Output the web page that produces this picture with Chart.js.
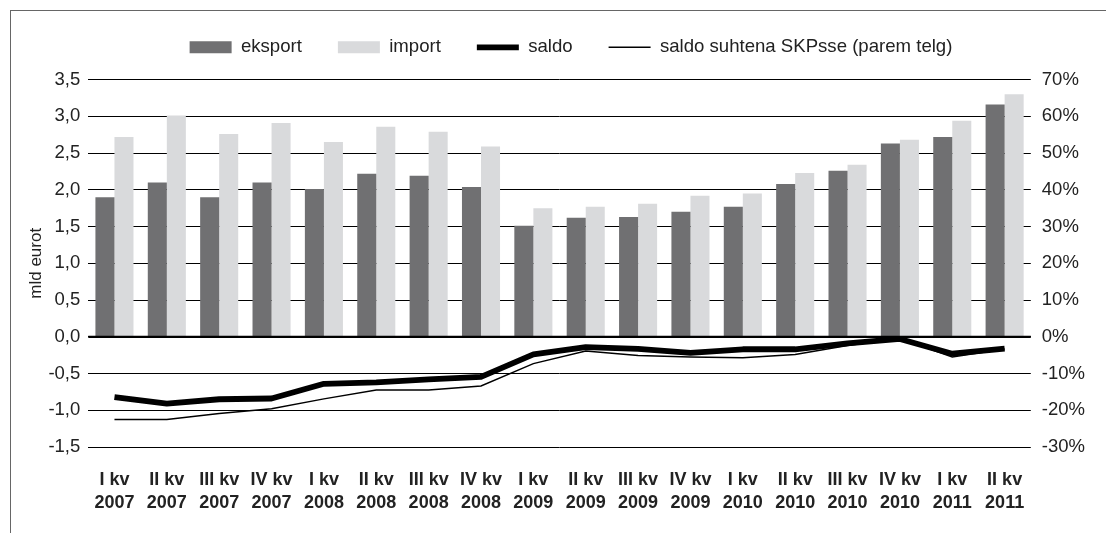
<!DOCTYPE html>
<html>
<head>
<meta charset="utf-8">
<script src="https://cdn.jsdelivr.net/npm/chart.js@4.4.1/dist/chart.umd.min.js"></script>
<style>
  html, body { margin: 0; padding: 0; background: #fff; }
  #wrap { position: relative; width: 1106px; height: 533px; }
  #frame {
    position: absolute; left: 10px; top: 10px; right: -5px; bottom: -5px;
    border-left: 1px solid #666; border-top: 1px solid #666;
    pointer-events: none;
  }
  canvas { position: absolute; left: 0; top: 0; }
</style>
</head>
<body>
<div id="wrap">
  <canvas id="chart" width="1106" height="533"></canvas>
  <div id="frame"></div>
</div>
<script>
/* kvartalid, mld eurot ja % SKPst */
const quarters = [
  ['I kv', '2007'], ['II kv', '2007'], ['III kv', '2007'], ['IV kv', '2007'],
  ['I kv', '2008'], ['II kv', '2008'], ['III kv', '2008'], ['IV kv', '2008'],
  ['I kv', '2009'], ['II kv', '2009'], ['III kv', '2009'], ['IV kv', '2009'],
  ['I kv', '2010'], ['II kv', '2010'], ['III kv', '2010'], ['IV kv', '2010'],
  ['I kv', '2011'], ['II kv', '2011']
];
const eksport  = [1.90, 2.10, 1.90, 2.10, 2.01, 2.22, 2.19, 2.04, 1.51, 1.62, 1.63, 1.70, 1.77, 2.08, 2.26, 2.63, 2.72, 3.16];
const importV  = [2.72, 3.01, 2.76, 2.91, 2.65, 2.86, 2.79, 2.59, 1.75, 1.77, 1.81, 1.92, 1.95, 2.23, 2.34, 2.68, 2.94, 3.30];
const saldo    = [-0.82, -0.91, -0.85, -0.84, -0.64, -0.62, -0.58, -0.545, -0.24, -0.14, -0.165, -0.22, -0.17, -0.17, -0.09, -0.03, -0.23, -0.16];
const saldoSkp = [-22.5, -22.5, -20.9, -19.6, -16.9, -14.5, -14.5, -13.4, -7.3, -3.9, -5.1, -5.5, -5.7, -4.8, -2.4, -0.5, -5.5, -3.3];

const leftTicks  = { min: -1.5, max: 3.5, step: 0.5 };
const rightTicks = { min: -30, max: 70, step: 10 };

const TEXT = '#222';
const FONT = 'Liberation Sans, Arial, Helvetica, sans-serif';

// legend: extra room below it, and a small nudge to the right
const legendTweak = {
  id: 'legendTweak',
  beforeInit(chart) {
    const fit = chart.legend.fit;
    chart.legend.fit = function () {
      fit.bind(chart.legend)();
      this.height += 13;
    };
  },
  afterLayout(chart) {
    chart.legend.left += 14;
    chart.legend.right += 14;
  }
};

// 0-joon: over the bars, under the lines
const zeroLine = {
  id: 'zeroLine',
  afterDatasetDraw(chart, args) {
    if (args.index !== 0) return;
    const { ctx, chartArea } = chart;
    const y = chart.scales.y.getPixelForValue(0);
    ctx.save();
    ctx.strokeStyle = '#000';
    ctx.lineWidth = 2.2;
    ctx.beginPath();
    ctx.moveTo(chartArea.left, y);
    ctx.lineTo(chartArea.right, y);
    ctx.stroke();
    ctx.restore();
  }
};

new Chart(document.getElementById('chart'), {
  type: 'bar',
  data: {
    labels: quarters,
    datasets: [
      {
        label: 'eksport',
        data: eksport,
        backgroundColor: '#707072',
        borderWidth: 0,
        categoryPercentage: 0.727,
        barPercentage: 1.0,
        order: 1,
        yAxisID: 'y'
      },
      {
        label: 'import',
        data: importV,
        backgroundColor: '#d9dadc',
        borderWidth: 0,
        categoryPercentage: 0.727,
        barPercentage: 1.0,
        order: 1,
        yAxisID: 'y'
      },
      {
        type: 'line',
        label: 'saldo',
        data: saldo,
        borderColor: '#000',
        backgroundColor: '#000',
        borderWidth: 5.8,
        borderJoinStyle: 'round',
        pointRadius: 0,
        tension: 0,
        order: 0,
        yAxisID: 'y'
      },
      {
        type: 'line',
        label: 'saldo suhtena SKPsse (parem telg)',
        data: saldoSkp,
        borderColor: '#000',
        backgroundColor: '#000',
        borderWidth: 1.5,
        pointRadius: 0,
        tension: 0,
        order: 0,
        yAxisID: 'y1'
      }
    ]
  },
  options: {
    responsive: false,
    animation: false,
    devicePixelRatio: 1,
    layout: { padding: { left: 18, right: 10, top: 2, bottom: -3 } },
    plugins: {
      tooltip: { enabled: false },
      legend: {
        position: 'top',
        align: 'center',
        labels: {
          usePointStyle: true,
          pointStyleWidth: 42,
          boxHeight: 12,
          padding: 36,
          color: TEXT,
          font: { size: 18.6, family: FONT },
          generateLabels: chart => chart.data.datasets.map((ds, i) => ({
            text: ds.label,
            datasetIndex: i,
            fillStyle: ds.type === 'line' ? ds.borderColor : ds.backgroundColor,
            strokeStyle: ds.type === 'line' ? ds.borderColor : ds.backgroundColor,
            lineWidth: ds.type === 'line' ? ds.borderWidth : 0,
            pointStyle: ds.type === 'line' ? 'line' : 'rect',
            fontColor: TEXT,
            hidden: false
          }))
        }
      }
    },
    scales: {
      x: {
        grid: { display: false, drawTicks: false },
        border: { display: false },
        ticks: {
          color: TEXT,
          font: { size: 18, family: FONT, weight: 'bold', lineHeight: 1.25 },
          padding: 22,
          maxRotation: 0,
          autoSkip: false
        }
      },
      y: {
        position: 'left',
        min: leftTicks.min,
        max: leftTicks.max,
        border: { display: false },
        grid: { color: '#000', lineWidth: 1, drawTicks: false },
        ticks: {
          stepSize: leftTicks.step,
          color: TEXT,
          padding: 8,
          font: { size: 18.5, family: FONT },
          callback: v => v.toFixed(1).replace('.', ',')
        },
        title: {
          display: true,
          text: 'mld eurot',
          color: TEXT,
          padding: { top: 8, bottom: -6 },
          font: { size: 17, family: FONT }
        }
      },
      y1: {
        position: 'right',
        min: rightTicks.min,
        max: rightTicks.max,
        border: { display: false },
        grid: { display: false, drawTicks: false },
        ticks: {
          stepSize: rightTicks.step,
          color: TEXT,
          padding: 11,
          font: { size: 18.5, family: FONT },
          callback: v => v + '%'
        }
      }
    }
  },
  plugins: [legendTweak, zeroLine]
});
</script>
</body>
</html>
